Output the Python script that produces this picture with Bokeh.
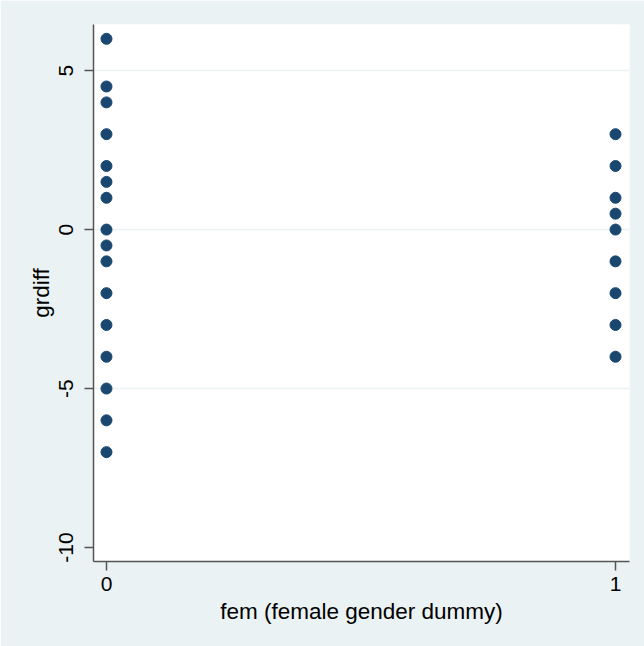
from bokeh.plotting import figure
from bokeh.models import FixedTicker, Range1d
from bokeh.embed import file_html
from bokeh.resources import INLINE

# Data
fem0_grdiff = [6, 4.5, 4, 3, 2, 1.5, 1, 0, -0.5, -1, -2, -3, -4, -5, -6, -7]
fem1_grdiff = [3, 2, 1, 0.5, 0, -1, -2, -3, -4]
x_ticks = [0, 1]
y_ticks = [-10, -5, 0, 5]
y_tick_labels = ["-10", "-5", "0", "5"]
grid_ticks = [-5, 0, 5]

xs = [0] * len(fem0_grdiff) + [1] * len(fem1_grdiff)
ys = fem0_grdiff + fem1_grdiff

BG = "#EAF2F3"
FONT = "Liberation Sans"

p = figure(
    frame_width=536, frame_height=537,
    min_border_left=93, min_border_right=15, min_border_top=24, min_border_bottom=85,
    x_range=Range1d(-0.0255, 1.0275), y_range=Range1d(-10.44, 6.45),
    output_backend="svg", toolbar_location=None,
    background_fill_color="white", border_fill_color=BG,
)
p.outline_line_color = None

p.scatter(xs, ys, size=11, color="#1a476f", line_color="#1a476f")

p.xgrid.visible = False
p.ygrid.ticker = FixedTicker(ticks=grid_ticks)
p.ygrid.grid_line_color = BG
p.ygrid.grid_line_width = 1.5

for ax in (p.xaxis[0], p.yaxis[0]):
    ax.axis_line_color = "#555555"
    ax.axis_line_width = 1.5
    ax.major_tick_line_color = "#555555"
    ax.major_tick_line_width = 1.5
    ax.major_tick_out = 9
    ax.major_tick_in = 0
    ax.minor_tick_line_color = None
    ax.major_label_text_font = FONT
    ax.major_label_text_font_size = "21px"
    ax.major_label_text_color = "black"
    ax.axis_label_text_font = FONT
    ax.axis_label_text_font_size = "22.5px"
    ax.axis_label_text_font_style = "normal"
    ax.axis_label_text_color = "black"

p.xaxis.ticker = FixedTicker(ticks=x_ticks)
p.yaxis.ticker = FixedTicker(ticks=y_ticks)
p.yaxis.major_label_overrides = dict(zip(y_ticks, y_tick_labels))
p.xaxis.axis_label = "fem (female gender dummy)"
p.yaxis.axis_label = "grdiff"
p.yaxis.major_label_orientation = "vertical"
p.xaxis.major_label_standoff = 6
p.yaxis.major_label_standoff = 11
p.xaxis.axis_label_standoff = 5
p.yaxis.axis_label_standoff = 3

open("out.html", "w").write(file_html(p, INLINE))
